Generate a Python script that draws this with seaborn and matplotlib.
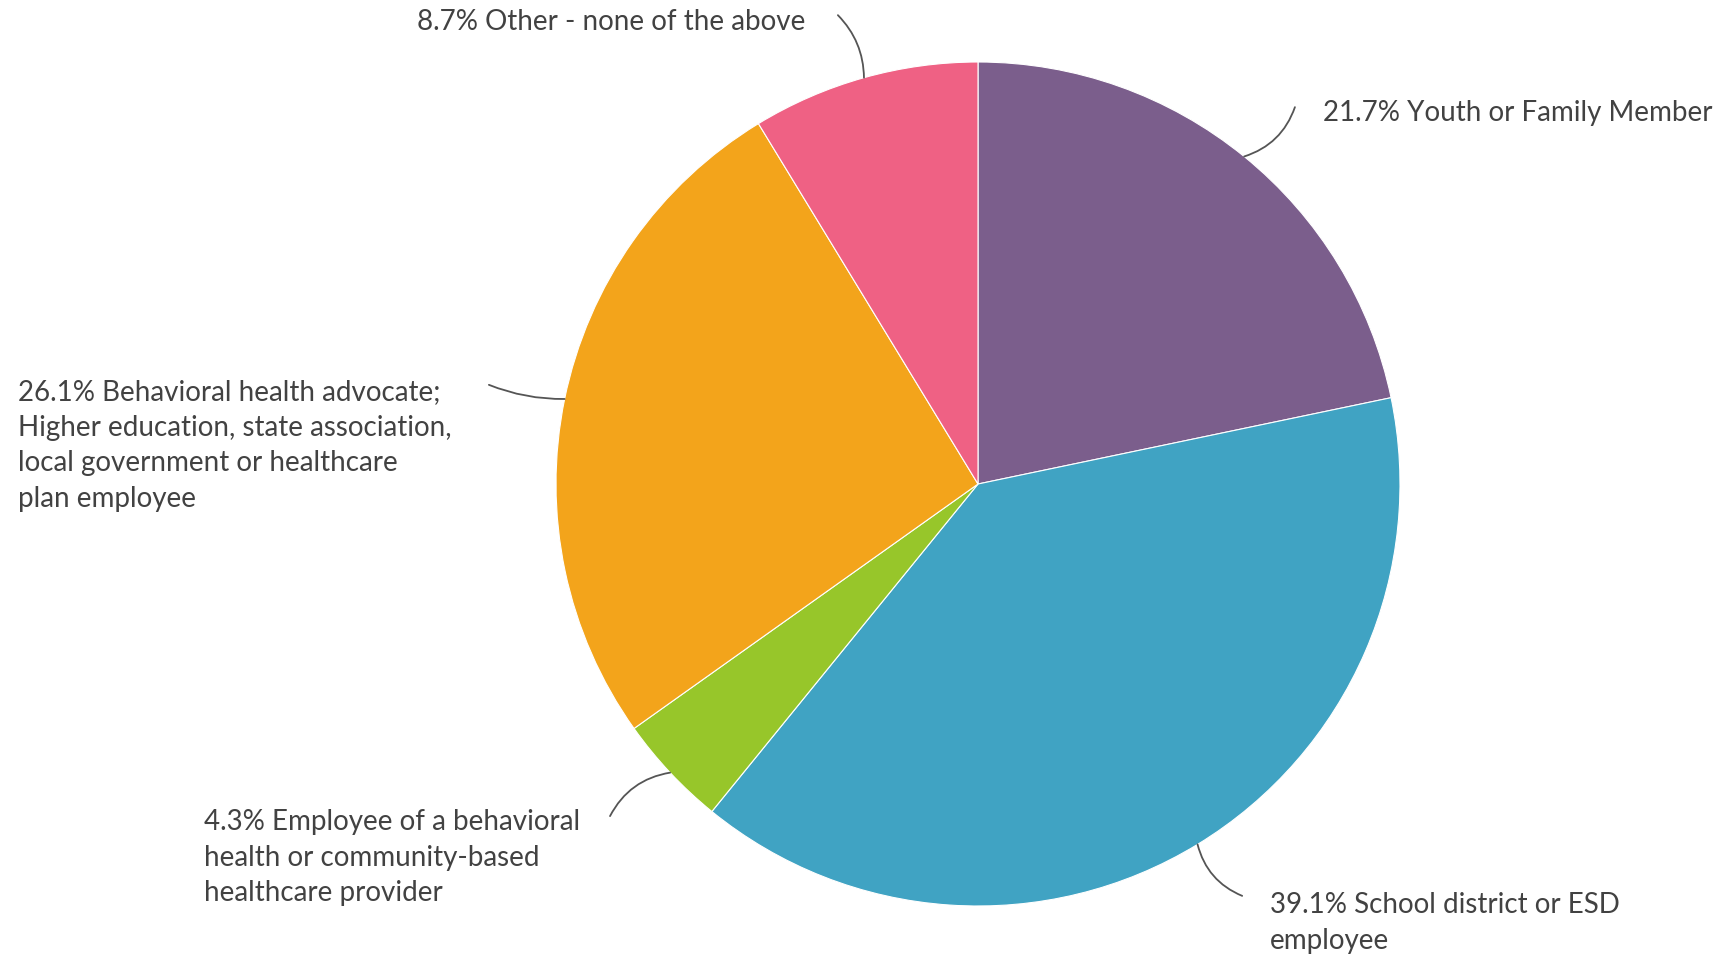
import numpy as np
import matplotlib
matplotlib.use("Agg")
import matplotlib.pyplot as plt
import seaborn as sns

categories = [
    "Youth or Family Member",
    "School district or ESD\nemployee",
    "Employee of a behavioral\nhealth or community-based\nhealthcare provider",
    "Behavioral health advocate;\nHigher education, state association,\nlocal government or healthcare\nplan employee",
    "Other - none of the above",
]
values = [21.7, 39.1, 4.3, 26.1, 8.7]
colors = ["#7B5E8C", "#40A3C3", "#97C62A", "#F3A41B", "#EF6184"]

sns.set_theme(style="white")
plt.rcParams["font.family"] = ["Lato", "DejaVu Sans"]

W, H = 1724, 957
fig = plt.figure(figsize=(W / 100, H / 100), dpi=100)
cx, cy, r = 978, 484, 422
ax = fig.add_axes([(cx - r) / W, (H - cy - r) / H, 2 * r / W, 2 * r / H])

wedges, _ = ax.pie(values, colors=colors, startangle=90, counterclock=False,
                   radius=1, wedgeprops=dict(edgecolor="white", linewidth=0.8))
ax.set_xlim(-1, 1)
ax.set_ylim(-1, 1)
ax.set_aspect("equal")
ax.axis("off")

# label layout: (text x, text y, ha, va, line start x, line start y, rad)
layout = [
    (0.818, 0.879, "left", "center", 0.751, 0.893, -0.25),
    (0.692, -1.040, "left", "center", 0.626, -0.976, -0.25),
    (-1.834, -0.886, "left", "center", -0.872, -0.787, -0.25),
    (-2.275, 0.091, "left", "center", -1.159, 0.235, 0.1),
    (-0.410, 1.095, "right", "center", -0.332, 1.111, -0.2),
]

text_color = "#424242"
for w, cat, val, (tx, ty, ha, va, lx, ly, rad) in zip(wedges, categories, values, layout):
    mid = np.deg2rad((w.theta1 + w.theta2) / 2)
    ex, ey = np.cos(mid), np.sin(mid)
    ax.annotate("", xy=(ex, ey), xytext=(lx, ly),
                arrowprops=dict(arrowstyle="-", color="#555555", lw=1.3,
                                connectionstyle=f"arc3,rad={rad}",
                                shrinkA=0, shrinkB=0),
                annotation_clip=False)
    ax.text(tx, ty, f"{val}% {cat}", ha=ha, va=va, fontsize=20,
            color=text_color, linespacing=1.45, clip_on=False)

fig.savefig("out.png", dpi=100, facecolor="white")
